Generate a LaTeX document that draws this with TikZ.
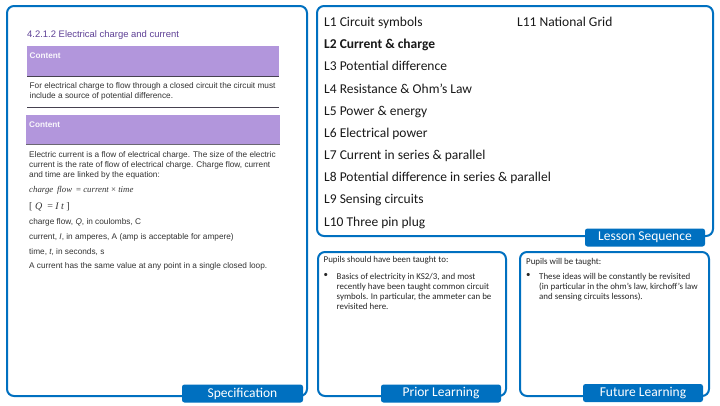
\documentclass[tikz,border=0pt]{standalone}
\usepackage{fontspec}
\setmainfont{Carlito}
\newfontfamily\spec{Liberation Sans}
\newfontfamily\specserif{Liberation Serif}
\definecolor{pblue}{RGB}{0,112,192}
\definecolor{plum}{RGB}{178,150,220}
\definecolor{headpurple}{RGB}{95,65,150}
\definecolor{rulegrey}{RGB}{70,65,80}
\tikzset{
  panel/.style={draw=pblue,line width=2pt,rounded corners=7pt,fill=white},
  tabbox/.style={fill=pblue,rounded corners=2.5pt,text=white,inner sep=0pt,font=\fontsize{13.5}{14}\selectfont},
  lesson/.style={anchor=base west,inner sep=0pt,font=\fontsize{13.5}{16}\selectfont,text=black!90},
  small/.style={anchor=north west,inner sep=0pt,align=left,font=\fontsize{8.9}{9.8}\selectfont,text=black!85},
  spectext/.style={anchor=west,inner sep=0pt,align=left,font=\spec\fontsize{8.25}{10}\selectfont,text=black!80},
  specline/.style={anchor=base west,inner sep=0pt,font=\spec\fontsize{8.25}{10}\selectfont,text=black!80},
  specmath/.style={anchor=base west,inner sep=0pt,font=\specserif\itshape\fontsize{8.8}{10}\selectfont,text=black!80},
  band/.style={fill=plum,draw=none},
  bandlabel/.style={anchor=west,inner sep=0pt,font=\spec\bfseries\fontsize{8.2}{9}\selectfont,text=white!92!plum},
  rulel/.style={draw=rulegrey,line width=0.7pt}
}
\newcommand{\tabtext}[1]{\raisebox{-1pt}{#1}}
\begin{document}
\begin{tikzpicture}[x=1pt,y=-1pt]
\useasboundingbox (0,0) rectangle (720,405);
\fill[white] (0,0) rectangle (720,405);
% panels
\draw[panel] (7,6) rectangle (307,396);
\draw[panel] (317,6) rectangle (713,236);
\draw[panel] (318,252) rectangle (506,396);
\draw[panel] (520,252) rectangle (709,396);
% tabs
\node[tabbox,minimum width=121pt,minimum height=18pt] (tabspec) at (242.5,393.5) {\tabtext{Specification}};
\node[tabbox,minimum width=120pt,minimum height=18pt] (tabseq) at (645,237.5) {\tabtext{Lesson Sequence}};
\node[tabbox,minimum width=120pt,minimum height=18pt] (tabprior) at (441,393.5) {\tabtext{Prior Learning}};
\node[tabbox,minimum width=120pt,minimum height=18pt] (tabfuture) at (643,393) {\tabtext{Future Learning}};
% spec
\node[anchor=west,inner sep=0pt,font=\spec\fontsize{9.45}{10}\selectfont,text=headpurple] (spechead) at (27,35.5) {4.2.1.2 Electrical charge and current};
\fill[band] (27,46) rectangle (279,76);
\draw[rulel] (27,76.5) -- (279,76.5);
\node[bandlabel] (c1) at (29.5,56) {Content};
\node[spectext] (p1) at (29.5,91.5) {For electrical charge to flow through a closed circuit the circuit must\\include a source of potential difference.};
\draw[rulel] (27,107.5) -- (279,107.5);
\fill[band] (26,115) rectangle (280,144);
\draw[rulel,line width=1pt,draw=rulegrey!80] (26,144.5) -- (280,144.5);
\node[bandlabel] (c2) at (29,124.5) {Content};
\node[spectext] (p2) at (29,165) {Electric current is a flow of electrical charge. The size of the electric\\current is the rate of flow of electrical charge. Charge flow, current\\and time are linked by the equation:};
\node[specmath] (eq1) at (29,192.7) {charge\hspace{1.5pt} flow\hspace{4pt}{\upshape =} current {\upshape ×} time};
\node[specmath,font=\specserif\itshape\fontsize{10}{10}\selectfont] (eq2) at (29,209) {{\upshape [} Q\hspace{5pt}{\upshape =} I t {\upshape ]}};
\node[specline] (s1) at (29,224) {charge flow, {\itshape Q}, in coulombs, C};
\node[specline] (s2) at (29,239) {current, {\itshape I}, in amperes, A (amp is acceptable for ampere)};
\node[specline] (s3) at (29,254) {time, {\itshape t}, in seconds, s};
\node[specline] (s4) at (29,268.5) {A current has the same value at any point in a single closed loop.};
% lessons
\node[lesson] (l1) at (324,26.5) {L1 Circuit symbols};
\node[lesson] (l11) at (517,26.5) {L11 National Grid};
\node[lesson,font=\bfseries\fontsize{13.5}{16}\selectfont] (l2) at (324,48.7) {L2 Current \& charge};
\node[lesson] (l3) at (324,70.9) {L3 Potential difference};
\node[lesson] (l4) at (324,93) {L4 Resistance \& Ohm’s Law};
\node[lesson] (l5) at (324,115.2) {L5 Power \& energy};
\node[lesson] (l6) at (324,137.4) {L6 Electrical power};
\node[lesson] (l7) at (324,159.6) {L7 Current in series \& parallel};
\node[lesson] (l8) at (324,181.8) {L8 Potential difference in series \& parallel};
\node[lesson] (l9) at (324,203.9) {L9 Sensing circuits};
\node[lesson] (l10) at (324,226) {L10 Three pin plug};
% prior
\node[small] (pt) at (323.5,256.5) {Pupils should have been taught to:};
\node[small] (pb) at (323.5,273.5) {•};
\node[small] (pp) at (336.5,273.5) {Basics of electricity in KS2/3, and most\\recently have been taught common circuit\\symbols. In particular, the ammeter can be\\revisited here.};
% future
\node[small] (ft) at (526,258) {Pupils will be taught:};
\node[small] (fb) at (526,273.5) {•};
\node[small] (fp) at (539,273.5) {These ideas will be constantly be revisited\\(in particular in the ohm’s law, kirchoff’s law\\and sensing circuits lessons).};
\end{tikzpicture}
\end{document}
